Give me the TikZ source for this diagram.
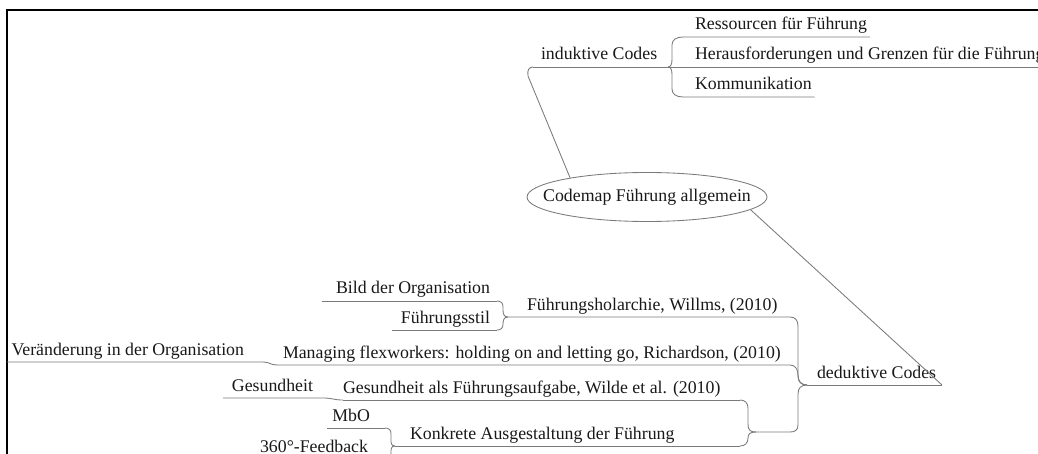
\documentclass[tikz,border=0pt]{standalone}
\usepackage{fontspec}
\setmainfont{Liberation Serif}
\usetikzlibrary{shapes.geometric}
\begin{document}
\begin{tikzpicture}[x=1pt,y=-1pt,
  lbl/.style={anchor=base west, inner sep=0pt, outer sep=0pt, font=\fontsize{17.8}{20}\selectfont, text=black!90},
  lblr/.style={lbl, anchor=base east},
  conn/.style={draw=black!52, line width=0.85pt},
  frame/.style={draw=black, line width=2pt},
  central/.style={draw=black!52, line width=0.85pt, ellipse, minimum width=240pt, minimum height=49pt, inner sep=0pt, fill=white, font=\fontsize{17.8}{20}\selectfont, text=black!90}]
\useasboundingbox (0,0) rectangle (1038,454);
\clip (0,0) rectangle (1038,454);
\fill[white] (0,0) rectangle (1038,454);

% frame
\draw[frame] (7,454) -- (7,10) -- (1038,10);

% central node
\node[central] (cm) at (647,197) {\makebox[0pt]{Codemap Führung allgemein}};

% ---------- induktive Codes ----------
\node[lbl] (ind) at (541,60) {induktive Codes};
\coordinate (indL) at (533,67);
\coordinate (indR) at (668,67);
\draw[conn] (indL) -- (indR);
\draw[conn] (cm.166.3) -- (528,76) .. controls (527,70) and (529,67) .. (indL);

\node[lbl] (res) at (695,30) {Ressourcen für Führung};
\node[lbl] (her) at (695,60) {Herausforderungen und Grenzen für die Führung};
\node[lbl] (kom) at (695,90) {Kommunikation};
\coordinate (resL) at (683,37);
\coordinate (komL) at (683,97);
\coordinate (resR) at ([xshift=3pt,yshift=-7pt]res.base east);
\coordinate (herR) at ([xshift=3pt,yshift=-7pt]her.base east);
\coordinate (komR) at ([xshift=3pt,yshift=-7pt]kom.base east);
\draw[conn] (indR) -- (herR);
\draw[conn] (indR) .. controls (671,67) and (672,64) .. (672,59) -- (672,45) .. controls (672,40) and (676,37) .. (resL) -- (resR);
\draw[conn] (indR) .. controls (671,67) and (672,70) .. (672,75) -- (672,89) .. controls (672,94) and (676,97) .. (komL) -- (komR);

% ---------- deduktive Codes ----------
\node[lbl] (ded) at (817,378) {deduktive Codes};
\coordinate (J) at (807,385);
\coordinate (dedR) at (942,385);
\draw[conn] (J) -- (dedR);
\draw[conn] (cm.-7.3) -- (dedR);

% Führungsholarchie
\node[lbl] (fho) at (527,310) {Führungsholarchie, Willms, (2010)};
\coordinate (F0) at (508,317);
\coordinate (fhoR) at (790,317);
\draw[conn] (F0) -- (fhoR) .. controls (795,317) and (798,320) .. (798,326) -- (798,376) .. controls (798,382) and (801,385) .. (J);

\node[lblr] (bild) at (490,294) {Bild der Organisation};
\node[lblr] (fst) at (490,323) {Führungsstil};
\coordinate (bildL) at ([xshift=-14pt,yshift=-7pt]bild.base west);
\coordinate (fstL) at ([xshift=-9pt,yshift=-7pt]fst.base west);
\coordinate (bildR) at (497,301);
\coordinate (fstR) at (497,330);
\draw[conn] (bildL) -- (bildR);
\draw[conn] (fstL) -- (fstR);
\draw[conn] (F0) .. controls (504,317) and (503,314) .. (503,310) -- (503,307) .. controls (503,303) and (501,301) .. (bildR);
\draw[conn] (F0) .. controls (504,317) and (503,320) .. (503,324) .. controls (503,328) and (501,330) .. (fstR);

% Managing flexworkers
\node[lbl] (man) at (283,358) {Managing flexworkers: holding on and letting go, Richardson, (2010)};
\coordinate (M0) at (277,365);
\coordinate (manR) at (790,365);
\draw[conn] (M0) -- (manR) .. controls (795,365) and (798,369) .. (798,375) .. controls (798,381) and (801,385) .. (J);

\node[lblr] (ver) at (244,355) {Veränderung in der Organisation};
\coordinate (verL) at (7,362);
\coordinate (verR) at (263,362);
\draw[conn] (verL) -- (verR) .. controls (270,362) and (270,365) .. (M0);

% Gesundheit als Führungsaufgabe / Konkrete Ausgestaltung
\coordinate (K) at (756,432);
\draw[conn] (J) .. controls (801,385) and (798,388) .. (798,394) -- (798,425) .. controls (798,430) and (795,432) .. (790,432) -- (K);

\node[lbl] (gal) at (343,393) {Gesundheit als Führungsaufgabe, Wilde et al. (2010)};
\coordinate (G0) at (343,400);
\coordinate (galR) at (740,400);
\draw[conn] (G0) -- (galR);
\draw[conn] (K) .. controls (750,432) and (748,430) .. (748,424) -- (748,408) .. controls (748,403) and (745,400) .. (galR);

\node[lblr] (ges) at (313,391) {Gesundheit};
\coordinate (gesL) at (223,398);
\coordinate (gesR) at (323,398);
\draw[conn] (gesL) -- (gesR) .. controls (333,398) and (333,400) .. (G0);

\node[lbl] (kon) at (410,439) {Konkrete Ausgestaltung der Führung};
\coordinate (K0) at (395,446);
\coordinate (konR) at (740,446);
\draw[conn] (K0) -- (konR);
\draw[conn] (K) .. controls (750,432) and (748,434) .. (748,438) .. controls (748,443) and (745,446) .. (konR);

\node[lblr] (mbo) at (370,421) {MbO};
\node[lblr] (fb) at (368,452) {360°-Feedback};
\coordinate (mboL) at (327,428);
\coordinate (mboR) at (385,428);
\coordinate (fbL) at (255,459);
\coordinate (fbR) at (385,459);
\draw[conn] (mboL) -- (mboR);
\draw[conn] (fbL) -- (fbR);
\draw[conn] (K0) .. controls (391,446) and (391,443) .. (391,439) -- (391,434) .. controls (391,430) and (389,428) .. (mboR);
\draw[conn] (K0) .. controls (391,446) and (391,449) .. (391,453) .. controls (391,457) and (389,459) .. (fbR);
\end{tikzpicture}
\end{document}
